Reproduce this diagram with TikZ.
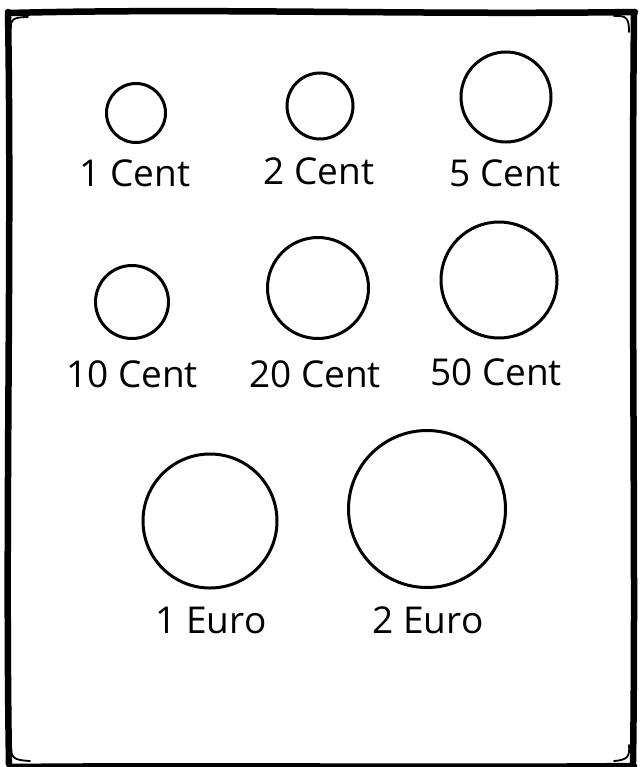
\documentclass[tikz,border=0pt]{standalone}
\usepackage{fontspec}
\setmainfont{Open Sans}
\usepackage{tikz}
\tikzset{
  coin/.style={draw,circle,line width=3pt,inner sep=0pt},
  lab/.style={anchor=base,inner sep=0pt,font=\fontsize{37}{44}\selectfont},
  frame/.style={line width=6.5pt,line cap=round},
  framethin/.style={line width=1.8pt,line cap=round}
}
\begin{document}
\begin{tikzpicture}[x=1pt,y=-1pt]
\useasboundingbox (0,0) rectangle (642,767);
% sketchy frame
\draw[frame] (9,13) .. controls (200,8) and (420,15) .. (635,12);
\draw[frame] (8,12) .. controls (12,250) and (5,520) .. (9,764);
\draw[frame] (634,14) .. controls (631,300) and (636,560) .. (633,762);
\draw[frame] (10,767) .. controls (220,765) and (430,768) .. (634,766);
\draw[framethin] (11,28) .. controls (10,20) and (13,17) .. (28,17);
\draw[framethin] (614,16) .. controls (627,15) and (629,19) .. (629,32);
\draw[framethin] (11,745) .. controls (11,758) and (13,760) .. (30,761);
\draw[framethin] (629,745) .. controls (630,757) and (627,760) .. (614,761);
% coins
\node[coin,minimum size=59pt] (c1) at (136,113) {};
\node[coin,minimum size=66pt] (c2) at (320,106) {};
\node[coin,minimum size=90pt] (c5) at (506,97) {};
\node[coin,minimum size=73pt] (c10) at (132,302) {};
\node[coin,minimum size=101pt] (c20) at (318,288) {};
\node[coin,minimum size=116pt] (c50) at (499,280) {};
\node[coin,minimum size=134pt] (e1) at (210,521) {};
\node[coin,minimum size=157pt] (e2) at (427,509) {};
% labels
\node[lab] (l1) at (135,187) {1 Cent};
\node[lab] (l2) at (319,185) {2 Cent};
\node[lab] (l5) at (505,187) {5 Cent};
\node[lab] (l10) at (132,387) {10 Cent};
\node[lab] (l20) at (315,387) {20 Cent};
\node[lab] (l50) at (496,385) {50 Cent};
\node[lab] (le1) at (211,633) {1 Euro};
\node[lab] (le2) at (428,633) {2 Euro};
\end{tikzpicture}
\end{document}
